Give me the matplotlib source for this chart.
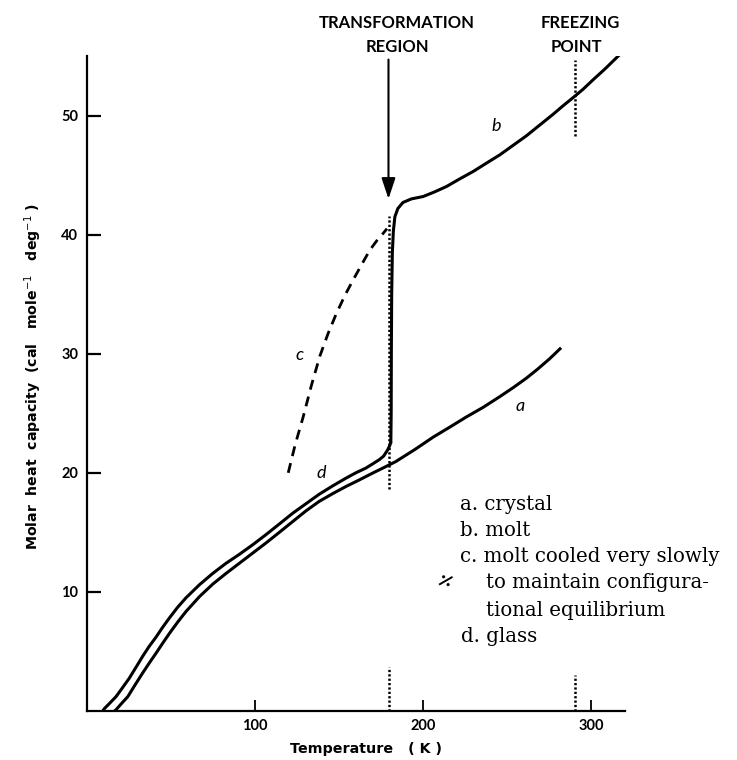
import matplotlib
matplotlib.use("Agg")
import matplotlib.pyplot as plt

# ---- data -----------------------------------------------------------------
# a: crystal
crystal_T = [16.5, 17.4, 20.5, 24.4, 28.8, 33.3, 37.3, 41.2, 45.2, 49.1, 54,
             59, 67, 74.9, 82.8, 90.7, 98.6, 106.5, 114.5, 122.4, 130.3,
             138.2, 146.2, 154.1, 162, 169.9, 176.8, 183.8, 195, 206, 216,
             225.8, 235.7, 245.6, 253.5, 261.4, 268, 275, 282]
crystal_Cp = [0, 0.1, 0.6, 1.2, 2.2, 3.2, 4.05, 4.85, 5.7, 6.5, 7.45, 8.35,
              9.6, 10.65, 11.55, 12.4, 13.25, 14.1, 15.0, 15.9, 16.8, 17.6,
              18.25, 18.85, 19.4, 19.97, 20.45, 20.95, 21.95, 23.0, 23.85,
              24.7, 25.5, 26.4, 27.15, 27.95, 28.7, 29.55, 30.5]

# d: glass
glass_T = [9.5, 10.5, 14, 17.4, 21, 25.3, 29, 33.3, 37, 41.2, 45, 49.1, 54,
           59, 67, 74.9, 82.8, 90.7, 98.6, 106.5, 114.5, 122.4, 130.3, 138.2,
           146.2, 154.1, 160, 166, 170, 173.9, 176.5, 178.8, 180.2, 180.8]
glass_Cp = [0, 0.2, 0.7, 1.2, 1.9, 2.75, 3.6, 4.6, 5.4, 6.2, 7.0, 7.8, 8.7,
            9.5, 10.6, 11.55, 12.4, 13.15, 13.95, 14.8, 15.7, 16.6, 17.4,
            18.2, 18.9, 19.55, 20.0, 20.4, 20.75, 21.1, 21.4, 21.9, 22.3,
            22.6]

# b: melt (rising through the transformation region)
melt_T = [180.8, 181.0, 181.1, 181.3, 181.7, 182.3, 183.2, 185, 188, 193,
          200, 207, 214, 222, 229.7, 237.6, 245.6, 253.5, 261.4, 269.3,
          277.2, 283, 289.1, 295, 301, 308, 316]
melt_Cp = [22.6, 25, 30, 35, 38.5, 40.3, 41.5, 42.2, 42.7, 43.0, 43.2, 43.6,
           44.05, 44.7, 45.3, 46.0, 46.7, 47.5, 48.3, 49.2, 50.1, 50.8, 51.5,
           52.2, 53.0, 53.9, 55.0]

# c: melt cooled very slowly
slow_T = [119.8, 124, 128.7, 133.5, 138.6, 143.5, 148.5, 153.5, 158.4, 163.5,
          168.3, 172.5, 176.2, 178.5]
slow_Cp = [20.0, 22.4, 24.7, 27.3, 29.8, 31.7, 33.4, 34.9, 36.2, 37.5,
           38.7, 39.5, 40.1, 40.5]

T_transformation = 180
T_freezing = 290

x_ticks = [100, 200, 300]
y_ticks = [10, 20, 30, 40, 50]

curve_labels = ["a", "b", "c", "d"]
curve_label_T = [257.5, 243.4, 126.8, 139.6]
curve_label_Cp = [25.6, 49.1, 29.9, 20.0]

legend_lines = ["a. crystal", "b. molt", "c. molt cooled very slowly",
                "to maintain configura-", "tional equilibrium", "d. glass"]

# ---- figure ---------------------------------------------------------------
W, H = 737, 760
fig = plt.figure(figsize=(W / 100, H / 100), dpi=100)
ax = fig.add_axes([86.7 / W, 1 - 711 / H, (625 - 86.7) / W, (711 - 56) / H])
ax.set_xlim(0, 320)
ax.set_ylim(0, 55)

for s in ("top", "right"):
    ax.spines[s].set_visible(False)
for s in ("left", "bottom"):
    ax.spines[s].set_linewidth(1.6)

sans = ["Lato", "DejaVu Sans"]
label_font = ["DejaVu Sans"]
ax.set_xticks(x_ticks)
ax.set_yticks(y_ticks)
ax.tick_params(axis="y", direction="in", length=10, width=1.6, pad=6,
               labelsize=10.5)
ax.tick_params(axis="x", direction="in", length=8, width=1.3, pad=6,
               labelsize=10.5)
for lab in ax.get_xticklabels() + ax.get_yticklabels():
    lab.set_fontfamily(sans)
    lab.set_fontweight("bold")

# axis titles
fig.text(366 / W, 1 - 749 / H, "Temperature   ( K )", ha="center",
         va="center", fontfamily=label_font, fontweight="bold", fontsize=10.3)
fig.text(33 / W, 1 - 377 / H,
         r"Molar  heat  capacity  (cal   mole$^{-1}$   deg$^{-1}$ )",
         ha="center", va="center", rotation=90, fontfamily=label_font,
         fontweight="bold", fontsize=10.2)

# curves
lw = 2.2
ax.plot(crystal_T, crystal_Cp, color="black", lw=lw, solid_capstyle="butt",
        solid_joinstyle="round")
ax.plot(glass_T, glass_Cp, color="black", lw=lw, solid_capstyle="butt",
        solid_joinstyle="round")
ax.plot(melt_T, melt_Cp, color="black", lw=lw, solid_joinstyle="round")
ax.plot(slow_T, slow_Cp, color="black", lw=2.0, linestyle=(0, (3.6, 2.6)))

# dotted markers for the transformation region and freezing point
dot = dict(color="black", lw=1.8, linestyle=(0, (0.9, 0.85)),
           dash_capstyle="butt")
ax.plot([T_transformation, T_transformation], [18.6, 41.6], **dot)
ax.plot([T_freezing, T_freezing], [48.3, 54.7], **dot)
ax.plot([T_transformation, T_transformation], [0, 3.7], **dot)
ax.plot([T_freezing, T_freezing], [0, 3.0], **dot)

# arrow to the transformation region
ax.annotate("", xy=(179.4, 43.0), xytext=(179.4, 54.7),
            arrowprops=dict(arrowstyle="-|>,head_length=0.9,head_width=0.3",
                            mutation_scale=14, lw=1.5, color="black",
                            shrinkA=0, shrinkB=0),
            annotation_clip=False)

# headings above the plot
head = dict(ha="center", va="center", fontfamily=sans, fontsize=12,
            fontweight="bold")
fig.text(397 / W, 1 - 23 / H, "TRANSFORMATION", **head)
fig.text(397 / W, 1 - 47 / H, "REGION", **head)
fig.text(580 / W, 1 - 23 / H, "FREEZING", **head)
fig.text(576 / W, 1 - 47 / H, "POINT", **head)

# curve letters
for t, x, y in zip(curve_labels, curve_label_T, curve_label_Cp):
    ax.text(x, y, t, ha="center", va="center", fontfamily=sans,
            fontstyle="italic", fontsize=13)

# key
serif = ["DejaVu Serif"]
key_x = [460, 460, 460, 486, 486, 461]
key_y = [504, 531, 557, 583, 610, 636]
for t, x, y in zip(legend_lines, key_x, key_y):
    fig.text(x / W, 1 - y / H, t, ha="left", va="center", fontfamily=serif,
             fontsize=14.2)
fig.text(446 / W, 1 - 581 / H, "÷", ha="center", va="center",
         fontfamily=serif, fontsize=18, rotation=30)

fig.savefig("out.png", dpi=100)
